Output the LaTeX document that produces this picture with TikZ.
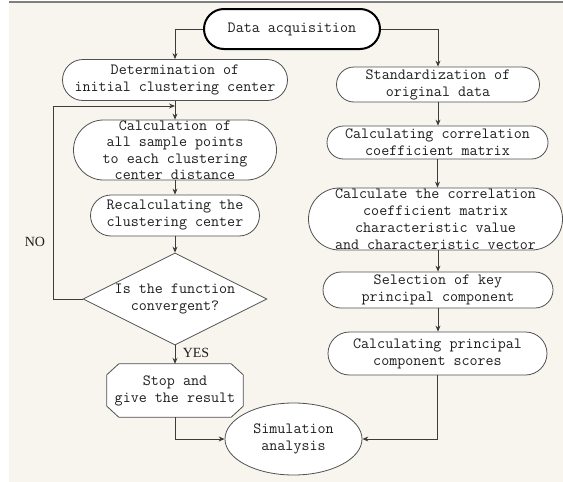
\documentclass[tikz,border=0pt]{standalone}
\usetikzlibrary{shapes.misc,shapes.geometric,arrows.meta}
\usepackage{fontspec}
\newfontfamily\lblfont{Liberation Serif}
\definecolor{bgc}{HTML}{F8F5EE}
\definecolor{topl}{HTML}{7F7F7F}
\definecolor{linec}{HTML}{3C3C3C}
\definecolor{boxc}{HTML}{505050}
\definecolor{txtc}{HTML}{1E1E1E}
\tikzset{
  x=1pt, y=1pt,
  shp/.style={draw=boxc, line width=0.8pt, fill=white, inner sep=0pt},
  stad/.style={shp, rounded rectangle},
  txt/.style={font=\ttfamily\fontsize{15.6}{17}\selectfont, align=center, inner sep=0pt, text=txtc},
  lbl/.style={font=\lblfont\fontsize{14}{16}\selectfont, inner sep=0pt, text=txtc},
  arr/.style={draw=linec, line width=0.8pt, -{Stealth[length=6pt,width=5pt,inset=2pt]}},
  octo/.style={draw=boxc, line width=0.8pt, fill=white},
}
\begin{document}
\begin{tikzpicture}
\useasboundingbox (0,0) rectangle (563,-482);
\fill[bgc] (9,-2) rectangle (563,-482);
\draw[topl, line width=1.6pt] (9,-2) -- (563,-2);

% shapes
\node[stad, draw=black, line width=2pt, minimum width=176, minimum height=40] (da) at (292,-29) {};
\node[txt] at (da) {Data acquisition};

\node[stad, minimum width=225, minimum height=41] (det) at (175,-80) {};
\node[txt] at (det) {Determination of\\initial clustering center};

\node[stad, minimum width=203, minimum height=60] (calc) at (175,-150) {};
\node[txt, font=\ttfamily\fontsize{15.6}{16.5}\selectfont] at (calc) {Calculation of\\all sample points\\to each clustering\\center distance};

\node[stad, minimum width=169, minimum height=41] (rec) at (175,-215.5) {};
\node[txt] at (rec) {Recalculating the\\clustering center};

\node[shp, diamond, minimum width=184, minimum height=92] (dia) at (175,-299) {};
\node[txt] at (dia) {Is the function\\convergent?};

\node[inner sep=0pt, minimum width=136, minimum height=53] (stop) at (175,-390.5) {};
\draw[octo] ([xshift=12pt]stop.north west) -- ([xshift=-12pt]stop.north east)
  -- ([yshift=-11pt]stop.north east) -- ([yshift=11pt]stop.south east)
  -- ([xshift=-12pt]stop.south east) -- ([xshift=12pt]stop.south west)
  -- ([yshift=11pt]stop.south west) -- ([yshift=-11pt]stop.north west) -- cycle;
\node[txt] at (stop) {Stop and\\give the result};

\node[stad, minimum width=203, minimum height=35] (std) at (438,-84.5) {};
\node[txt] at (std) {Standardization of\\original data};

\node[stad, minimum width=221, minimum height=33] (corr) at (437.5,-142.5) {};
\node[txt] at (corr) {Calculating correlation\\coefficient matrix};

\node[stad, minimum width=254, minimum height=62] (eig) at (435.5,-219) {};
\node[txt] at (eig) {Calculate the correlation\\coefficient matrix\\characteristic value\\and characteristic vector};

\node[stad, minimum width=230, minimum height=36] (key) at (438,-290) {};
\node[txt] at (key) {Selection of key\\principal component};

\node[stad, minimum width=219, minimum height=43] (sco) at (437.5,-353.5) {};
\node[txt] at (sco) {Calculating principal\\component scores};

\node[shp, ellipse, minimum width=137, minimum height=72] (sim) at (293.5,-439) {};
\node[txt] at (sim) {Simulation\\analysis};

% connectors
\draw[arr] (da.west) -| (det.north);
\draw[arr] (da.east) -| (std.north);
\draw[arr] (det.south) -- (calc.north);
\draw[arr] (calc.south) -- (rec.north);
\draw[arr] (rec.south) -- (dia.north);
\draw[arr] (dia.south) -- (stop.north);
\coordinate (jn) at (175,-106);
\coordinate (nl) at (53,-106);
\draw[arr] (dia.west) -| (nl) -- (jn);
\node[lbl] (no) at (35,-242) {NO};
\node[lbl] (yes) at (196,-353) {YES};
\draw[arr] (stop.south) |- (sim.west);
\draw[arr] (std.south) -- (std.south |- corr.north);
\draw[arr] (corr.south) -- (corr.south |- eig.north);
\draw[arr] (key.north |- eig.south) -- (key.north);
\draw[arr] (key.south) -- (key.south |- sco.north);
\draw[arr] (sco.south) |- (sim.east);
\end{tikzpicture}
\end{document}
